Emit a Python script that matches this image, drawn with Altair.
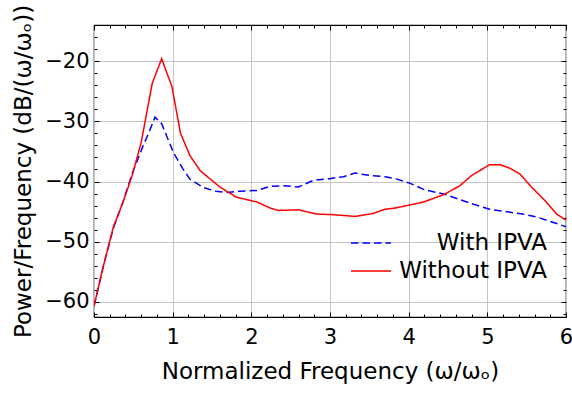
import altair as alt
import pandas as pd

# ---- data ----
freq_with = [0.0, 0.12, 0.245, 0.37, 0.49, 0.62, 0.70, 0.775, 0.86, 1.01, 1.13, 1.22, 1.39,
             1.55, 1.69, 1.85, 2.07, 2.24, 2.4, 2.6, 2.79, 2.95, 3.17, 3.32, 3.51, 3.7,
             3.85, 4.02, 4.19, 4.48, 4.78, 5.03, 5.29, 5.45, 5.63, 5.84, 6.0]
psd_with = [-60.7, -54.0, -47.8, -43.3, -38.5, -34.2, -31.8, -29.3, -30.4, -35.2, -37.9, -39.6, -41.0,
            -41.6, -41.8, -41.6, -41.5, -40.8, -40.7, -40.9, -39.8, -39.6, -39.2, -38.6, -39.0, -39.2,
            -39.6, -40.3, -41.3, -42.2, -43.6, -44.6, -45.1, -45.4, -45.9, -46.8, -47.5]

freq_without = [0.0, 0.12, 0.245, 0.37, 0.49, 0.6, 0.74, 0.86, 0.99, 1.1, 1.22, 1.35, 1.6,
                1.81, 2.07, 2.24, 2.34, 2.6, 2.83, 3.04, 3.32, 3.55, 3.7, 3.83, 4.19, 4.44,
                4.65, 4.8, 5.03, 5.16, 5.29, 5.41, 5.56, 5.75, 5.88, 6.0]
psd_without = [-60.7, -54.0, -47.6, -43.4, -38.8, -33.5, -23.7, -19.6, -24.2, -32.0, -35.7, -38.2, -40.9,
               -42.6, -43.4, -44.4, -44.8, -44.7, -45.4, -45.5, -45.8, -45.3, -44.6, -44.4, -43.4, -42.2,
               -40.7, -39.0, -37.2, -37.2, -37.8, -38.7, -40.9, -43.4, -45.4, -46.4]

series_names = ["With IPVA", "Without IPVA"]
series_colors = ["#0000ff", "#ff0000"]
series_dashes = [[7.5, 4], [1, 0]]

x_major = [0, 1, 2, 3, 4, 5, 6]
x_minor = [0.2, 0.4, 0.6, 0.8, 1.2, 1.4, 1.6, 1.8, 2.2, 2.4, 2.6, 2.8, 3.2, 3.4, 3.6, 3.8,
           4.2, 4.4, 4.6, 4.8, 5.2, 5.4, 5.6, 5.8]
y_major = [-60, -50, -40, -30, -20]
y_minor = [-62, -58, -56, -54, -52, -48, -46, -44, -42, -38, -36, -34, -32, -28, -26, -24,
           -22, -18, -16, -14]

x_domain = [0, 6]
y_domain = [-62.5, -14]

W, H = 472, 292
FONT = "DejaVu Sans"

df = pd.concat([
    pd.DataFrame({"freq": freq_with, "psd": psd_with, "series": series_names[0]}),
    pd.DataFrame({"freq": freq_without, "psd": psd_without, "series": series_names[1]}),
], ignore_index=True)

xscale = alt.Scale(domain=x_domain, nice=False, zero=False)
yscale = alt.Scale(domain=y_domain, nice=False, zero=False)


def legend():
    return alt.Legend(title=None, orient="none", legendX=256, legendY=204,
                      symbolType="stroke", symbolSize=1600, symbolStrokeWidth=1.5,
                      clipHeight=28, rowPadding=0,
                      labelFont=FONT, labelFontSize=23, labelColor="black",
                      labelAlign="right", labelOffset=155)


lines = alt.Chart(df).mark_line(strokeWidth=1.5, clip=True).encode(
    x=alt.X("freq:Q", scale=xscale,
            axis=alt.Axis(values=x_major, format="d", ticks=False, domain=False, grid=True,
                          gridColor="#c4c4c4", gridWidth=1, labelFont=FONT, labelFontSize=21,
                          labelColor="black", labelPadding=9, labelFlush=False,
                          title="Normalized Frequency (ω/ωₒ)", titleFont=FONT, titleFontSize=23,
                          titleFontWeight="normal", titleColor="black", titlePadding=13)),
    y=alt.Y("psd:Q", scale=yscale,
            axis=alt.Axis(values=y_major, format="d", ticks=False, domain=False, grid=True,
                          gridColor="#c4c4c4", gridWidth=1, labelFont=FONT, labelFontSize=21,
                          labelColor="black", labelPadding=5, labelFlush=False,
                          title="Power/Frequency (dB/(ω/ωₒ))", titleFont=FONT, titleFontSize=23,
                          titleFontWeight="normal", titleColor="black", titlePadding=9)),
    color=alt.Color("series:N", scale=alt.Scale(domain=series_names, range=series_colors),
                    legend=legend()),
    strokeDash=alt.StrokeDash("series:N", scale=alt.Scale(domain=series_names, range=series_dashes),
                              legend=legend()),
)


def tick_layer(vals, size, xorient=None, yorient=None):
    common = dict(values=vals, labels=False, domain=False, grid=False, ticks=True,
                  tickSize=size, tickColor="black", tickWidth=1, title=None)
    if xorient is not None:
        xax = alt.Axis(orient=xorient, offset=-H, **common)
        yax = None
    else:
        xax = None
        yax = alt.Axis(orient=yorient, offset=-W, **common)
    return alt.Chart(df).mark_point(opacity=0).encode(
        x=alt.X("freq:Q", scale=xscale, axis=xax),
        y=alt.Y("psd:Q", scale=yscale, axis=yax),
    )


layers = [lines]
for vals, size in [(x_major, 5), (x_minor, 3)]:
    layers.append(tick_layer(vals, size, xorient="top"))     # drawn at bottom, pointing up
    layers.append(tick_layer(vals, size, xorient="bottom"))  # drawn at top, pointing down
for vals, size in [(y_major, 5), (y_minor, 3)]:
    layers.append(tick_layer(vals, size, yorient="right"))   # drawn at left, pointing right
    layers.append(tick_layer(vals, size, yorient="left"))    # drawn at right, pointing left

chart = alt.layer(*layers).resolve_axis(x="independent", y="independent").properties(
    width=W, height=H,
    autosize=alt.AutoSizeParams(type="none"),
    padding={"left": 94, "top": 25, "right": 6, "bottom": 77},
    background="white",
).configure_view(stroke="black", strokeWidth=1.2)

chart.save("out.html", embed_options={"renderer": "svg", "actions": False})
